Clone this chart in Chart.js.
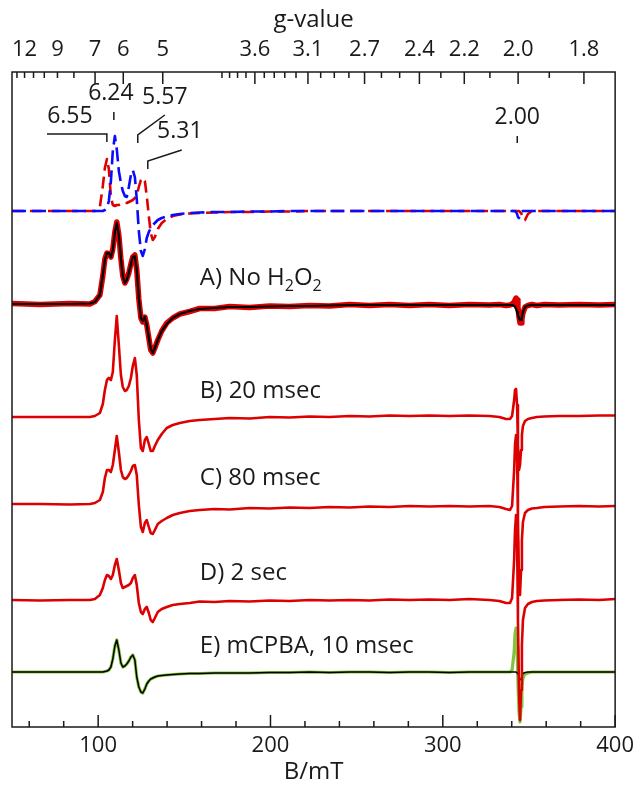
<!DOCTYPE html>
<html><head><meta charset="utf-8">
<script src="https://cdn.jsdelivr.net/npm/chart.js@4.4.1/dist/chart.umd.min.js"></script>
<style>html,body{margin:0;padding:0;background:#fff}canvas{display:block}</style>
</head><body>
<canvas id="c" width="640" height="788"></canvas>
<script>
// ---- data ----
// magnetic field (mT)
const field = [
 50.0, 66.2, 83.6, 95.2, 98.1, 101.0, 102.7, 103.9, 105.1, 106.2,
 107.4, 108.5, 109.7, 110.8, 112.0, 113.2, 114.3, 115.5, 116.6, 117.8,
 119.0, 120.1, 121.3, 122.4, 123.6, 124.8, 125.9, 127.1, 128.2, 129.4,
 130.5, 131.7, 132.9, 134.6, 136.9, 139.8, 143.3, 147.4, 153.1, 158.9,
 167.6, 176.3, 187.9, 199.5, 211.1, 222.7, 234.3, 245.9, 257.5, 269.1,
 280.7, 292.2, 303.8, 315.4, 327.0, 332.8, 336.7, 339.0, 340.2, 341.4,
 341.9, 342.5, 343.1, 343.6, 344.2, 344.8, 345.4, 345.9, 346.5, 347.7,
 349.4, 351.7, 354.6, 358.9, 367.5, 379.1, 390.7, 400.0];

// simulated spectra (dashed, top)
const simRed = [
 0,0,0,0,0,4,25,43,52,42,
 14,6,5,6,6,7,7,8,8,9,
 10,11,13,16,24,31,33,30,15,-5,
 -22,-29,-26,-18,-12,-8,-5,-3.5,-2.5,-2,
 -1.5,-1,-1,-0.5,-0.5,0,0,0,0,0,
 0,0,0,0,0,0,0,0,0,0,
 0,0,0,0,0,-1,-2,-4,-7,-9,
 -3,0,0,0,0,0,0,0];
const simBlue = [
 0,0,0,0,0,0,0,1,3,10,
 30,60,75,62,40,28,20,15,14,24,
 36,41,34,12,-20,-40,-45,-38,-27,-21,
 -17,-14,-12,-9,-7,-5.5,-4,-3,-2,-1.5,
 -1,-1,-0.5,-0.5,0,0,0,0,0,0,
 0,0,0,0,0,0,0,0,0,0,
 0,-1,-3,-6,-7,-5,-2,-0.5,0,0,
 0,0,0,0,0,0,0,0];
// A) No H2O2 : data and fit
const aData = [
 0.5,-0.5,0.5,0,2.5,9,28,45,51,50,
 47,55,72,82,69,45,28,21,25,31,
 40,47,49,34,5,-14,-18,-13,-21,-34,
 -46,-49,-44,-36,-27,-19,-14,-10,-7.5,-4.5,
 -4.5,-2.5,-3.5,-2,-2.5,-1.5,-2,-0.5,-1.5,-0.5,
 -1.5,-0.5,-1.5,-0.5,-1,-0.5,-1.5,-1,0,2,
 4,6,4,-3,-13,-19,-19,-15,-9,-3,
 -1.5,-0.5,-1.5,-0.5,-1,-0.5,-1,-0.5];
const aFit = [
 0,0,0,0.5,2,9,29,44,51,51,
 47,54,72,81,69,46,28,21,24,31,
 40,47,48,34,6,-14,-17,-13,-21,-34,
 -45,-49,-44,-36,-27,-20,-14,-10,-7,-5,
 -4,-3,-3,-2.5,-2,-2,-1.5,-1,-1,-1,
 -1,-1,-1,-1,-1,-1,-1,-1,-1,-2,
 -3,-5,-8,-11,-14,-16,-16,-13,-8,-3,
 -1.5,-1,-1,-1,-1,-1,-1,-1];
// B) 20 msec
const bData = [
 -1,-1,-1,-1,0,3,12,26,36,38,
 36,44,76,100,71,41,29,25,26,30,
 38,50,58,41,-4,-32,-35,-24,-21,-28,
 -35,-35,-30,-24,-18,-12,-9,-7,-5,-4,
 -3,-2,-2.5,-1,-1.5,-0.5,-1,0,-0.5,0.5,
 0,0.5,0,0.5,0,-1,-3,-3,0,16,
 26,27,11,-29,-54,-49,-34,-19,-10,-5,
 -3,-2,-1,-0.5,0,0,0.5,0.5];
// C) 80 msec
const cData = [
 1,1,0.5,1,2,5,13,27,35,35,
 33,40,55,69,53,35,28,26,27,30,
 34,39,40,30,0,-22,-27,-18,-15,-22,
 -28,-29,-25,-19,-16,-13,-10,-8,-6,-5,
 -4,-4.5,-3,-3.5,-2.5,-3,-2,-2.5,-1.5,-2,
 -1,-1.5,-1,-1.5,-1,-2,-4,-5,-1,35,
 60,70,50,-15,-75,-90,-65,-35,-17,-8,
 -5,-3.5,-3,-2,-1.5,-1,-1.5,-1];
// D) 2 sec
const dData = [
 0,-0.5,0,0,1,5,12,20,25,24,
 21,25,35,41,30,17,12,13,14,15,
 17,22,25,15,-3,-12,-14,-9,-7,-13,
 -20,-22,-18,-12,-9,-7,-5,-4,-3,-1.5,
 -2,-1,-1.5,-0.5,-1,0,-0.5,0,-0.5,0.5,
 0,0.5,0,1,0,-1,-3,-3,2,40,
 70,85,60,-20,-90,-120,-90,-45,-20,-8,
 -4,-2,-1,-0.5,0,0.5,0,1];
// E) mCPBA, 10 msec : data and fit
const eData = [
 0,0,0,0,0,0,0,0.5,1,2,
 5,13,26,32,22,9,5,6,8,11,
 15,17,12,-5,-15,-20,-21,-17,-12,-9,
 -7,-6,-5,-4,-3.5,-3,-2.5,-2,-1.5,-1.5,
 -1,-1,-1,-0.5,-0.5,0,-0.5,0,0,-0.5,
 0,0,-0.5,0,0,0,0,0,2,20,
 38,44,25,-10,-40,-50,-35,-15,-6,-2,
 -1,0,0,0,0,0,0,0];
const eFit = [
 0,0,0,0,0,0,0,0.5,1,2,
 5,13,26,32,22,9,5,6,8,11,
 15,17,12,-5,-15,-20,-21,-17,-12,-9,
 -7,-6,-5,-4,-3.5,-3,-2.5,-2,-1.5,-1.5,
 -1,-1,-1,-0.5,-0.5,0,-0.5,0,0,-0.5,
 0,0,-0.5,0,0,0,0,0,0,0,
 0,0,-1,-2,-4,-7,-8,-4,-1.5,-0.5,
 0,0,0,0,0,0,0,0];
// vertical offsets of the stacked spectra (intensity units)
const traceOffsets = { sim: 516, A: 423, B: 311, C: 222, D: 127, E: 55 };

// axis ticks
const bLabels = [100, 200, 300, 400];
const bMinor = [60, 80, 120, 140, 160, 180, 220, 240, 260, 280, 320, 340, 360, 380];
const gLabelText = ['12','9','7','6','5','3.6','3.1','2.7','2.4','2.2','2.0','1.8'];
const gLongTicks = [7, 6, 5, 3.6, 3.1, 2.7, 2.4, 2.2, 2.0, 1.8];
const gShortTicks = [13, 12, 11, 10, 9, 8, 4.0, 3.9, 3.8, 3.7, 3.5, 3.4, 3.3, 3.2, 3.0, 2.9, 2.8, 2.6, 2.5, 2.3, 2.1, 1.9];
const gTimesB = 687.4; // g * B (mT) at the spectrometer frequency

// ---- drawing ----
const FONT = "'Open Sans', 'Noto Sans', sans-serif";
const INK = '#1a1a1a';
const RED = '#dd0000', BLUE = '#0a0aff', GREEN = '#82c341';

const pts = (arr, off) => field.map((b, i) => ({ x: b, y: off + arr[i] }));
const line = (arr, off, color, width, extra) => Object.assign({
  data: pts(arr, off), borderColor: color, borderWidth: width, pointRadius: 0,
  fill: false, tension: 0, xAxisID: 'x', yAxisID: 'y', borderJoinStyle: 'round', borderCapStyle: 'butt'
}, extra || {});

const datasets = [
  line(simBlue, traceOffsets.sim, BLUE, 2.6, { borderDash: [14, 6] }),
  line(simRed, traceOffsets.sim, RED, 2.6, { borderDash: [12, 6] }),
  line(aFit, traceOffsets.A, '#000', 2.2),
  line(aData, traceOffsets.A, RED, 5.5),
  line(bData, traceOffsets.B, RED, 2.6),
  line(cData, traceOffsets.C, RED, 2.6),
  line(dData, traceOffsets.D, RED, 2.6),
  line(eFit, traceOffsets.E, '#000', 1.5),
  line(eData, traceOffsets.E, GREEN, 3.2)
];

const annotations = [
  { text: '6.55', at: [83.6, 604], path: [[70.3, 593], [105.05, 593], [105.05, 585]] },
  { text: '6.24', at: [107.4, 627], path: [[109.1, 615], [109.1, 607]] },
  { text: '5.57', at: [138.7, 623], path: [[138.7, 612], [123.0, 592], [123.0, 584]] },
  { text: '5.31', at: [147.4, 589], path: [[148.5, 577], [128.8, 566], [128.8, 558]] },
  { text: '2.00', at: [343.2, 603], path: [[343.2, 591], [343.2, 584]] }
];
const traceLabels = [
  { parts: [['A) No H', 0], ['2', 1], ['O', 0], ['2', 1]], at: [159.0, 442] },
  { parts: [['B) 20 msec', 0]], at: [159.0, 329] },
  { parts: [['C) 80 msec', 0]], at: [159.0, 242] },
  { parts: [['D) 2 sec', 0]], at: [159.0, 147] },
  { parts: [['E) mCPBA, 10 msec', 0]], at: [159.0, 74] }
];

const overlay = {
  id: 'overlay',
  afterDraw(chart) {
    const { ctx, chartArea: a, scales } = chart;
    const px = v => scales.x.getPixelForValue(v);
    const py = v => scales.y.getPixelForValue(v);
    ctx.save();
    ctx.strokeStyle = INK; ctx.fillStyle = INK; ctx.lineWidth = 1.5;
    ctx.beginPath();
    bLabels.forEach(v => { const x = px(v); ctx.moveTo(x, a.bottom); ctx.lineTo(x, a.bottom - 12); });
    bMinor.forEach(v => { const x = px(v); ctx.moveTo(x, a.bottom); ctx.lineTo(x, a.bottom - 6); });
    gLongTicks.forEach(g => { const x = px(gTimesB / g); ctx.moveTo(x, a.top); ctx.lineTo(x, a.top + 12); });
    gShortTicks.forEach(g => { const x = px(gTimesB / g); ctx.moveTo(x, a.top); ctx.lineTo(x, a.top + 6); });
    ctx.stroke();
    ctx.strokeRect(a.left, a.top, a.right - a.left, a.bottom - a.top);

    ctx.font = `23px ${FONT}`;
    ctx.textBaseline = 'alphabetic';
    annotations.forEach(an => {
      ctx.beginPath();
      an.path.forEach(([b, y], i) => i ? ctx.lineTo(px(b), py(y)) : ctx.moveTo(px(b), py(y)));
      ctx.stroke();
      ctx.textAlign = 'center';
      ctx.fillText(an.text, px(an.at[0]), py(an.at[1]));
    });
    ctx.textAlign = 'left';
    traceLabels.forEach(t => {
      let x = px(t.at[0]); const y = py(t.at[1]);
      t.parts.forEach(([s, sub]) => {
        ctx.font = sub ? `16px ${FONT}` : `24px ${FONT}`;
        ctx.fillText(s, x, y + (sub ? 6 : 0));
        x += ctx.measureText(s).width;
      });
    });
    ctx.restore();
  }
};

const tickFont = { family: FONT, size: 22 };
const titleFont = { family: FONT, size: 24 };
new Chart(document.getElementById('c'), {
  type: 'line',
  data: { datasets },
  options: {
    responsive: false, animation: false, devicePixelRatio: 1,
    layout: { padding: { left: 12, right: 24, top: 0, bottom: 0 } },
    plugins: { legend: { display: false }, tooltip: { enabled: false } },
    scales: {
      x: {
        type: 'linear', position: 'bottom', min: 50, max: 400,
        afterBuildTicks: s => { s.ticks = bLabels.map(v => ({ value: v })); },
        afterFit: s => { s.height = 61; },
        grid: { display: false, drawTicks: false }, border: { display: false },
        ticks: { padding: 6, font: tickFont, color: INK, maxRotation: 0, autoSkip: false },
        title: { display: true, text: 'B/mT', font: titleFont, color: INK, padding: { top: 0, bottom: 1 } }
      },
      x2: {
        type: 'linear', position: 'top', min: 50, max: 400,
        afterBuildTicks: s => { s.ticks = gLabelText.map(g => ({ value: gTimesB / parseFloat(g) })); },
        afterFit: s => { s.height = 72; },
        grid: { display: false, drawTicks: false }, border: { display: false },
        ticks: { padding: 9, font: tickFont, color: INK, maxRotation: 0, autoSkip: false,
                 callback: (v, i) => gLabelText[i] },
        title: { display: true, text: 'g-value', font: titleFont, color: INK, padding: { top: 6, bottom: 0 } }
      },
      y: { display: false, min: 0, max: 655 }
    }
  },
  plugins: [overlay]
});
</script>
</body></html>
